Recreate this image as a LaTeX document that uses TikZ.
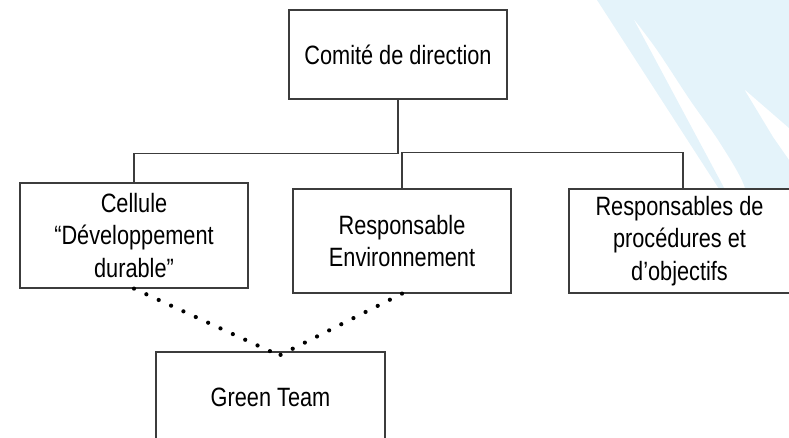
\documentclass[tikz,border=0pt]{standalone}
\usepackage{fontspec}
\setmainfont{Liberation Sans}[FakeStretch=0.82]
\definecolor{swoosh}{RGB}{228,243,250}
\definecolor{frame}{RGB}{60,60,60}
\begin{document}
\begin{tikzpicture}[x=1pt,y=-1pt,
    box/.style={draw=frame,line width=1.2pt,fill=white,inner sep=0pt,align=center,
      font=\fontsize{26.5}{32.5}\selectfont},
    dots/.style={line width=4.2pt,line cap=round,dash pattern=on 0pt off 13.6pt}]
      \useasboundingbox (0,0) rectangle (789,438);
      \clip (0,0) rectangle (789,438);
      % background swoosh
      \fill[swoosh] (597,0) -- (789,0) -- (789,128) -- (744,89) -- (773,137)
        -- (789,160) -- (789,240) -- (752,240)
        plot[smooth] coordinates {(752,240) (745,188) (720,143) (690,100) (657,50) (633,18)}
        -- cycle;
      \node[box,minimum width=218,minimum height=89] (comite) at (398,54.5) {Comité de direction};
      \node[box,minimum width=228,minimum height=105] (cellule) at (134,235.5)
        {Cellule\\“Développement\\durable”};
      \node[box,minimum width=218,minimum height=104] (env) at (402,241) {Responsable\\Environnement};
      \node[box,minimum width=221,minimum height=104] (proc) at (679.5,241)
        {Responsables de\\procédures et\\d’objectifs};
      \node[box,minimum width=229,minimum height=90] (green) at (270.5,397) {Green Team};
      \begin{scope}[line width=1.2pt,draw=frame]
        \draw (comite.south) -- ++(0,54) -| (cellule.north);
        \draw (env.north) -- ++(0,-36) -| ([xshift=3.5pt]proc.north);
      \end{scope}
      \begin{scope}[dots]
        \draw (cellule.south) -- (green.north);
        \draw (env.south) -- ([xshift=9pt,yshift=-4pt]green.north);
      \end{scope}
    \end{tikzpicture}
\end{document}
